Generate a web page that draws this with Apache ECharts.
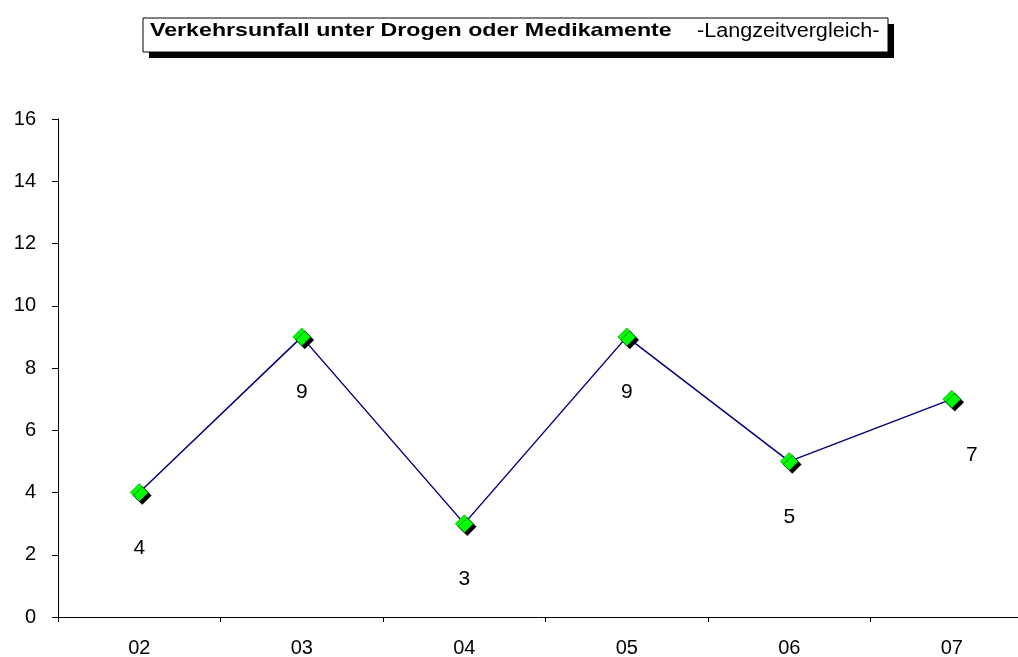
<!DOCTYPE html>
<html>
<head>
<meta charset="utf-8">
<script src="https://cdn.jsdelivr.net/npm/echarts@6/dist/echarts.min.js"></script>
<style>
html, body { margin: 0; padding: 0; background: #fff; }
#chart { width: 1018px; height: 657px; }
</style>
</head>
<body>
<div id="chart"></div>
<script>
var years = ['02', '03', '04', '05', '06', '07'];
var unfaelle = [4, 9, 3, 9, 5, 7];
var yTicks = [0, 2, 4, 6, 8, 10, 12, 14, 16];
var titelFett = 'Verkehrsunfall unter Drogen oder Medikamente';
var titelNormal = '-Langzeitvergleich-';

var chart = echarts.init(document.getElementById('chart'));

var option = {
	animation: false,
	backgroundColor: '#fff',
	graphic: [
		// Schatten des Titelkastens
		{ type: 'rect', shape: { x: 149, y: 24, width: 745, height: 34 }, style: { fill: '#000' } },
		{ type: 'rect', shape: { x: 143, y: 18, width: 745, height: 34 }, style: { fill: '#fff', stroke: '#000', lineWidth: 1 } },
		{
			type: 'text', x: 150, y: 31, scaleX: 1.22,
			style: { text: titelFett, font: 'bold 19px "Liberation Sans"', fill: '#000', textVerticalAlign: 'middle', verticalAlign: 'middle' }
		},
		{
			type: 'text', x: 697, y: 31, scaleX: 1.08,
			style: { text: titelNormal, font: '20px "Liberation Sans"', fill: '#000', textVerticalAlign: 'middle', verticalAlign: 'middle' }
		}
	],
	grid: {
		left: 58,
		width: 975,
		top: 119,
		height: 498,
		outerBoundsMode: 'none',
		containLabel: false
	},
	xAxis: {
		type: 'category',
		data: years,
		boundaryGap: true,
		axisLine: { lineStyle: { color: '#000', width: 1 } },
		axisTick: { show: true, inside: false, length: 5, lineStyle: { color: '#000' } },
		axisLabel: { color: '#000', fontFamily: 'Liberation Sans', fontSize: 20, margin: 21 }
	},
	yAxis: {
		type: 'value',
		min: yTicks[0],
		max: yTicks[yTicks.length - 1],
		interval: 2,
		axisLine: { show: true, lineStyle: { color: '#000', width: 1 } },
		axisTick: { show: true, length: 6, lineStyle: { color: '#000' } },
		splitLine: { show: false },
		axisLabel: { color: '#000', fontFamily: 'Liberation Sans', fontSize: 20, margin: 22 }
	},
	series: [{
		type: 'line',
		data: unfaelle.map(function (v, i) {
			return {
				value: v,
				label: i === unfaelle.length - 1 ? { offset: [20, 0] } : {}
			};
		}),
		lineStyle: { color: '#000080', width: 1.5 },
		symbol: 'diamond',
		symbolSize: 18,
		itemStyle: {
			color: '#00ff00',
			borderColor: '#006000',
			borderWidth: 0.5,
			shadowColor: '#000',
			shadowOffsetX: 3,
			shadowOffsetY: 3,
			shadowBlur: 0
		},
		label: {
			show: true,
			position: 'bottom',
			distance: 36,
			color: '#000',
			fontFamily: 'Liberation Sans',
			fontSize: 21
		}
	}]
};

chart.setOption(option);
</script>
</body>
</html>
